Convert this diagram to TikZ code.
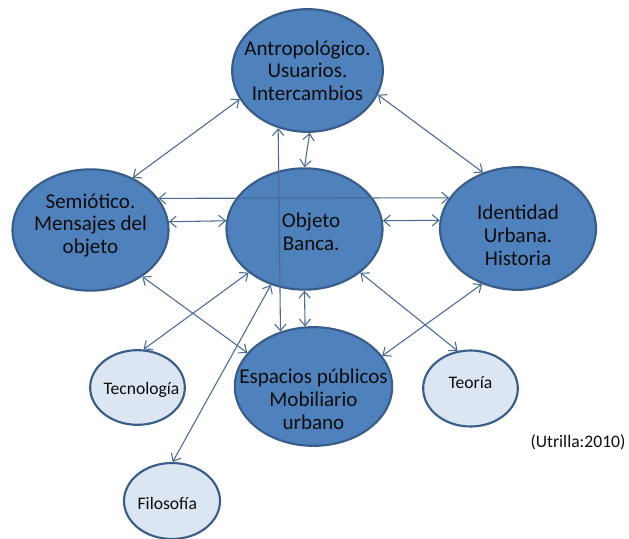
\documentclass[tikz,border=0pt]{standalone}
\usepackage{fontspec}
\setmainfont{Carlito}
\usetikzlibrary{arrows.meta,shapes.geometric}

\definecolor{TopicBlue}{HTML}{4F81BD}
\definecolor{TopicEdge}{HTML}{385D8A}
\definecolor{LightTopic}{HTML}{DCE6F2}
\definecolor{LinkBlue}{HTML}{4A6A94}

\begin{document}
\begin{tikzpicture}[
        %Environment Config
        x=0.75pt, y=-0.75pt,
        BigTopic/.style={%Style for the main topics
            ellipse,
            draw=TopicEdge,
            fill=TopicBlue,
            line width=1.6pt,
            inner sep=0pt,
            minimum width=117pt,
            minimum height=91pt
        },
        SmallTopic/.style={%Style for the side topics
            ellipse,
            draw=TopicEdge,
            fill=LightTopic,
            line width=1.6pt,
            inner sep=0pt,
            minimum width=71pt,
            minimum height=57pt
        },
        TopicText/.style={%Text inside the ellipses
            align=center,
            text=black!95,
            font=\fontsize{15.8}{17}\selectfont
        },
        SmallText/.style={%
            text=black!95,
            font=\fontsize{13.2}{15}\selectfont
        },
        Link/.style={%Style for the connectors
            {Straight Barb[length=5pt,width=8.5pt]}-{Straight Barb[length=5pt,width=8.5pt]},
            LinkBlue,
            line width=0.8pt
        }
    ]
    \useasboundingbox (0,0) rectangle (629,539);

    % main topics
    \node[BigTopic, minimum width=113pt, minimum height=92pt,
        label={[TopicText]center:Antropológico.\\Usuarios.\\Intercambios}] (Antro) at (307.5,70.5) {};
    \node[BigTopic, label={[TopicText, yshift=3.5pt]center:Semiótico.\\Mensajes del\\objeto}] (Semio) at (90.5,230) {};
    \node[BigTopic, label={[TopicText, xshift=5pt, yshift=-2pt]center:Objeto\\Banca.}] (Objeto) at (304.5,229) {};
    \node[BigTopic, minimum height=92pt,
        label={[TopicText, yshift=-5pt]center:Identidad\\Urbana.\\Historia}] (Ident) at (518,228.5) {};
    \node[BigTopic, minimum width=118pt, minimum height=89pt,
        label={[TopicText, yshift=-9.5pt]center:Espacios públicos\\Mobiliario\\urbano}] (Espacios) at (313.5,386.5) {};

    % side topics
    \node[SmallTopic, minimum height=56pt,
        label={[SmallText, xshift=3pt, yshift=-1.5pt]center:Tecnología}] (Tecno) at (137.5,387.5) {};
    \node[SmallTopic, label={[SmallText, yshift=4.5pt]center:Teoría}] (Teoria) at (470.5,388.5) {};
    \node[SmallTopic, minimum width=72pt,
        label={[SmallText, xshift=-3.5pt, yshift=-1.5pt]center:Filosofía}] (Filo) at (172,501) {};

    % source
    \node[SmallText] (Source) at (578,442) {(Utrilla:2010)};

    % connectors
    \draw[Link] (Antro.203) -- (Semio.51);
    \draw[Link] (Antro.341) -- (Ident.122);
    \draw[Link] (Antro.272) -- (Objeto.north);
    \draw[Link] (Antro.243) -- (Espacios.121.5);
    \draw[Link] (Semio.25) -- (Ident.156);
    \draw[Link] (Semio.6) -- (Objeto.174);
    \draw[Link] (Objeto.6) -- (Ident.174);
    \draw[Link] (Objeto.south) -- (Espacios.98);
    \draw[Link] (Semio.318) -- (Espacios.153);
    \draw[Link] (Objeto.218) -- (Tecno.81);
    \draw[Link] (Objeto.239) -- (Filo.89);
    \draw[Link] (Objeto.322) -- (Teoria.109);
    \draw[Link] (Ident.237) -- (Espacios.24);
\end{tikzpicture}
\end{document}
